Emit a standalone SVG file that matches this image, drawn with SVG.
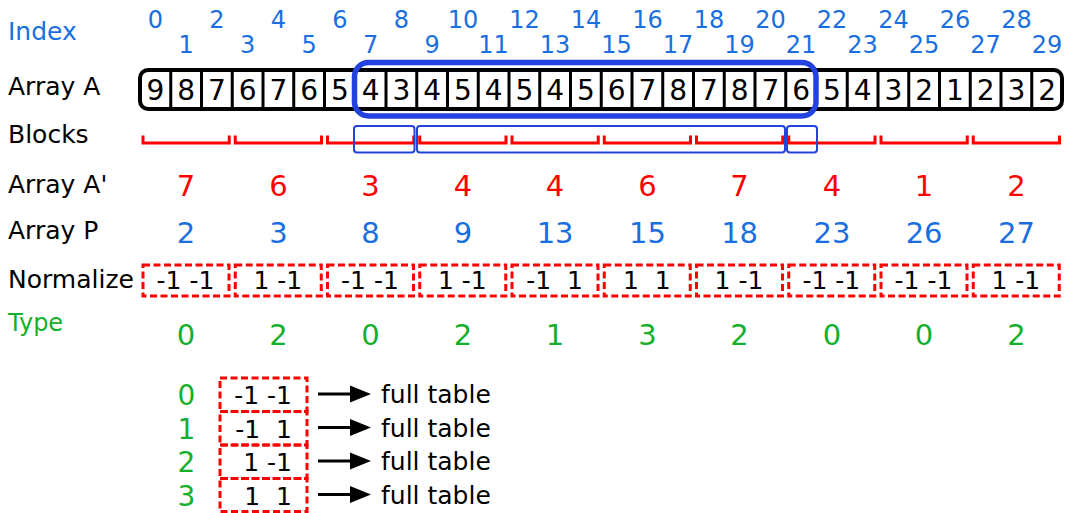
<svg xmlns="http://www.w3.org/2000/svg" width="1066" height="513" viewBox="0 0 1066 513">
<style>
text{font-family:"DejaVu Sans","Liberation Sans",sans-serif}
.lbl{font-size:25px;fill:#000}
.idx{font-size:24px;fill:#1a6fe0;text-anchor:middle}
.cell{font-size:28px;fill:#000;text-anchor:middle}
.ap{font-size:29px;fill:#ff0000;text-anchor:middle}
.p{font-size:29px;fill:#1a6fe0;text-anchor:middle}
.ty{font-size:29px;fill:#14b02c;text-anchor:middle}
.nt{font-size:25px;fill:#000;text-anchor:middle;white-space:pre}
.lt{font-size:25px;fill:#000;text-anchor:end;white-space:pre}
.nb{fill:none;stroke:#ff0000;stroke-width:3;stroke-dasharray:7 3.5}
.br{fill:none;stroke:#ff0000;stroke-width:3}
.bb{fill:none;stroke:#2442e0;stroke-width:2;}
.arr{stroke:#000;stroke-width:3}
</style>
<rect width="1066" height="513" fill="#fff"/>
<g id="labels">
<text class="lbl" x="8" y="40" style="fill:#1a6fe0">Index</text>
<text class="lbl" x="8" y="95">Array A</text>
<text class="lbl" x="8" y="143">Blocks</text>
<text class="lbl" x="8" y="193">Array A'</text>
<text class="lbl" x="8" y="239">Array P</text>
<text class="lbl" x="8" y="288">Normalize</text>
<text class="lbl" x="8" y="331" style="font-size:24px;fill:#14b02c">Type</text>
</g>
<g id="index">
<text class="idx" x="155.4" y="28">0</text><text class="idx" x="186.1" y="53">1</text>
<text class="idx" x="216.9" y="28">2</text><text class="idx" x="247.6" y="53">3</text>
<text class="idx" x="278.4" y="28">4</text><text class="idx" x="309.1" y="53">5</text>
<text class="idx" x="339.9" y="28">6</text><text class="idx" x="370.6" y="53">7</text>
<text class="idx" x="401.4" y="28">8</text><text class="idx" x="432.1" y="53">9</text>
<text class="idx" x="462.9" y="28">10</text><text class="idx" x="493.6" y="53">11</text>
<text class="idx" x="524.4" y="28">12</text><text class="idx" x="555.1" y="53">13</text>
<text class="idx" x="585.9" y="28">14</text><text class="idx" x="616.6" y="53">15</text>
<text class="idx" x="647.4" y="28">16</text><text class="idx" x="678.1" y="53">17</text>
<text class="idx" x="708.9" y="28">18</text><text class="idx" x="739.6" y="53">19</text>
<text class="idx" x="770.4" y="28">20</text><text class="idx" x="801.1" y="53">21</text>
<text class="idx" x="831.9" y="28">22</text><text class="idx" x="862.6" y="53">23</text>
<text class="idx" x="893.4" y="28">24</text><text class="idx" x="924.1" y="53">25</text>
<text class="idx" x="954.9" y="28">26</text><text class="idx" x="985.6" y="53">27</text>
<text class="idx" x="1016.4" y="28">28</text><text class="idx" x="1047.1" y="53">29</text>
</g>
<g id="arrayA">
<rect x="140" y="70" width="922" height="39" rx="8" fill="#fff" stroke="#000" stroke-width="4"/>
<path d="M170.75 70V109M201.5 70V109M232.25 70V109M263 70V109M293.75 70V109M324.5 70V109M355.25 70V109M386 70V109M416.75 70V109M447.5 70V109M478.25 70V109M509 70V109M539.75 70V109M570.5 70V109M601.25 70V109M632 70V109M662.75 70V109M693.5 70V109M724.25 70V109M755 70V109M785.75 70V109M816.5 70V109M847.25 70V109M878 70V109M908.75 70V109M939.5 70V109M970.25 70V109M1001 70V109M1031.75 70V109" stroke="#000" stroke-width="3"/>
<text class="cell" x="155.4" y="100">9</text><text class="cell" x="186.1" y="100">8</text>
<text class="cell" x="216.9" y="100">7</text><text class="cell" x="247.6" y="100">6</text>
<text class="cell" x="278.4" y="100">7</text><text class="cell" x="309.1" y="100">6</text>
<text class="cell" x="339.9" y="100">5</text><text class="cell" x="370.6" y="100">4</text>
<text class="cell" x="401.4" y="100">3</text><text class="cell" x="432.1" y="100">4</text>
<text class="cell" x="462.9" y="100">5</text><text class="cell" x="493.6" y="100">4</text>
<text class="cell" x="524.4" y="100">5</text><text class="cell" x="555.1" y="100">4</text>
<text class="cell" x="585.9" y="100">5</text><text class="cell" x="616.6" y="100">6</text>
<text class="cell" x="647.4" y="100">7</text><text class="cell" x="678.1" y="100">8</text>
<text class="cell" x="708.9" y="100">7</text><text class="cell" x="739.6" y="100">8</text>
<text class="cell" x="770.4" y="100">7</text><text class="cell" x="801.1" y="100">6</text>
<text class="cell" x="831.9" y="100">5</text><text class="cell" x="862.6" y="100">4</text>
<text class="cell" x="893.4" y="100">3</text><text class="cell" x="924.1" y="100">2</text>
<text class="cell" x="954.9" y="100">1</text><text class="cell" x="985.6" y="100">2</text>
<text class="cell" x="1016.4" y="100">3</text><text class="cell" x="1047.1" y="100">2</text>
</g>
<g id="range">
<rect x="354.5" y="62.5" width="461.5" height="53.5" rx="14" fill="none" stroke="#2442e0" stroke-width="5.5"/>
</g>
<g id="blocks">
<path class="br" d="M143 135.5V143H229.25V135.5M235.25 135.5V143H321.5V135.5M327.5 135.5V143H413.75V135.5M419.75 135.5V143H506V135.5M512 135.5V143H598.25V135.5M604.25 135.5V143H690.5V135.5M696.5 135.5V143H782.75V135.5M788.75 135.5V143H875V135.5M881 135.5V143H967.25V135.5M973.25 135.5V143H1059.5V135.5"/>
<rect class="bb" x="354" y="126" width="60.5" height="26.5" rx="3"/>
<rect class="bb" x="417" y="126" width="368" height="26.5" rx="3"/>
<rect class="bb" x="787" y="126" width="30" height="26.5" rx="3"/>
</g>
<g id="arrayA2">
<text class="ap" x="186.1" y="196">7</text><text class="ap" x="278.4" y="196">6</text>
<text class="ap" x="370.6" y="196">3</text><text class="ap" x="462.9" y="196">4</text>
<text class="ap" x="555.1" y="196">4</text><text class="ap" x="647.4" y="196">6</text>
<text class="ap" x="739.6" y="196">7</text><text class="ap" x="831.9" y="196">4</text>
<text class="ap" x="924.1" y="196">1</text><text class="ap" x="1016.4" y="196">2</text>
</g>
<g id="arrayP">
<text class="p" x="186.1" y="243">2</text><text class="p" x="278.4" y="243">3</text>
<text class="p" x="370.6" y="243">8</text><text class="p" x="462.9" y="243">9</text>
<text class="p" x="555.1" y="243">13</text><text class="p" x="647.4" y="243">15</text>
<text class="p" x="739.6" y="243">18</text><text class="p" x="831.9" y="243">23</text>
<text class="p" x="924.1" y="243">26</text><text class="p" x="1016.4" y="243">27</text>
</g>
<g id="normalize">
<rect class="nb" x="143" y="265" width="86" height="31"/>
<rect class="nb" x="235.25" y="265" width="86" height="31"/>
<rect class="nb" x="327.5" y="265" width="86" height="31"/>
<rect class="nb" x="419.75" y="265" width="86" height="31"/>
<rect class="nb" x="512" y="265" width="86" height="31"/>
<rect class="nb" x="604.25" y="265" width="86" height="31"/>
<rect class="nb" x="696.5" y="265" width="86" height="31"/>
<rect class="nb" x="788.75" y="265" width="86" height="31"/>
<rect class="nb" x="881" y="265" width="86" height="31"/>
<rect class="nb" x="973.25" y="265" width="86" height="31"/>
<text class="nt" x="185.5" y="289">-1 -1</text><text class="nt" x="277.8" y="289">1 -1</text>
<text class="nt" x="370" y="289">-1 -1</text><text class="nt" x="462.3" y="289">1 -1</text>
<text class="nt" x="554.5" y="289">-1  1</text><text class="nt" x="646.8" y="289">1  1</text>
<text class="nt" x="739" y="289">1 -1</text><text class="nt" x="831.3" y="289">-1 -1</text>
<text class="nt" x="923.5" y="289">-1 -1</text><text class="nt" x="1015.8" y="289">1 -1</text>
</g>
<g id="type">
<text class="ty" x="186.1" y="345">0</text><text class="ty" x="278.4" y="345">2</text>
<text class="ty" x="370.6" y="345">0</text><text class="ty" x="462.9" y="345">2</text>
<text class="ty" x="555.1" y="345">1</text><text class="ty" x="647.4" y="345">3</text>
<text class="ty" x="739.6" y="345">2</text><text class="ty" x="831.9" y="345">0</text>
<text class="ty" x="924.1" y="345">0</text><text class="ty" x="1016.4" y="345">2</text>
</g>
<g id="legend">
<text class="ty" x="186.5" y="405" style="font-size:28px">0</text>
<text class="ty" x="186.5" y="438.5" style="font-size:28px">1</text>
<text class="ty" x="186.5" y="472" style="font-size:28px">2</text>
<text class="ty" x="186.5" y="505.5" style="font-size:28px">3</text>
<rect class="nb" x="220" y="378" width="87" height="33.5"/>
<rect class="nb" x="220" y="411.5" width="87" height="33.5"/>
<rect class="nb" x="220" y="445" width="87" height="33.5"/>
<rect class="nb" x="220" y="478.5" width="87" height="33"/>
<text class="lt" x="292" y="404">-1 -1</text>
<text class="lt" x="292" y="437.5">-1  1</text>
<text class="lt" x="292" y="471">1 -1</text>
<text class="lt" x="292" y="504.5">1  1</text>
<text class="lbl" x="381" y="403">full table</text>
<text class="lbl" x="381" y="436.5">full table</text>
<text class="lbl" x="381" y="470">full table</text>
<text class="lbl" x="381" y="503.5">full table</text>
</g>
<g id="connectors">
<path class="arr" d="M318 394H354M318 427.5H354M318 461H354M318 494.5H354"/>
<path d="M371 394L350 385.5V402.5ZM371 427.5L350 419V436ZM371 461L350 452.5V469.5ZM371 494.5L350 486V503Z" fill="#000"/>
</g>
</svg>
